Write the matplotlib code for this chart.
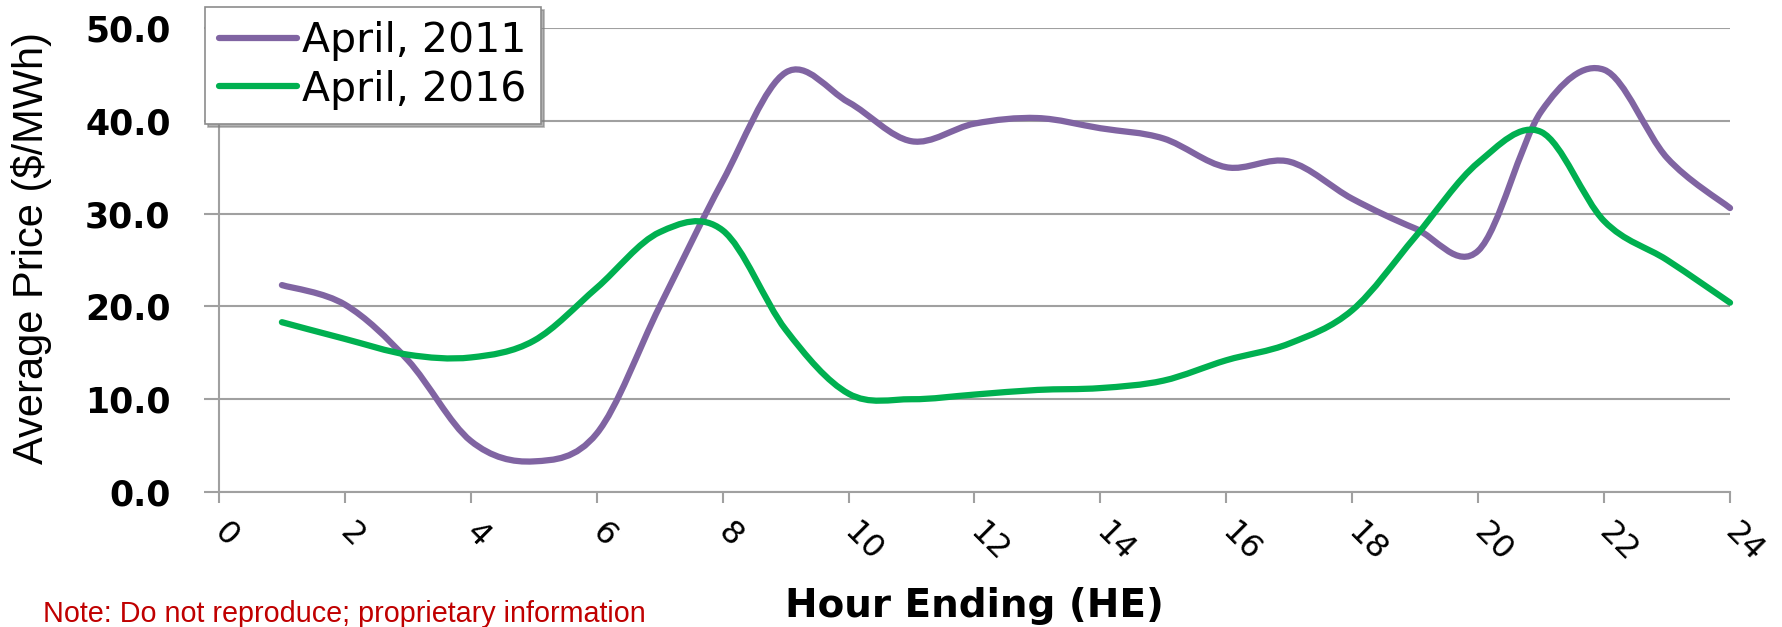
import numpy as np
import matplotlib
matplotlib.use('Agg')
import matplotlib.pyplot as plt
from matplotlib.path import Path
from matplotlib.patches import PathPatch
from matplotlib.lines import Line2D

# data (hour ending 1..24, $/MWh)
hours = list(range(1, 25))
april_2011 = [22.3, 20.2, 14.2, 5.5, 3.3, 6.3, 20.0, 33.5, 45.2, 42.0, 37.8, 39.7,
              40.3, 39.2, 38.1, 35.0, 35.6, 31.6, 28.4, 26.0, 41.0, 45.5, 36.0, 30.6]
april_2016 = [18.3, 16.5, 14.8, 14.5, 16.3, 22.0, 28.0, 28.2, 17.5, 10.6, 10.0, 10.5,
              11.0, 11.2, 12.0, 14.2, 16.0, 19.6, 27.5, 35.5, 38.8, 29.2, 25.0, 20.4]
series_labels = ['April, 2011', 'April, 2016']
series_colors = ['#8064A2', '#00B050']
x_ticks = list(range(0, 25, 2))
y_ticks = [0, 10, 20, 30, 40, 50]

GRAY = '#A0A0A0'


# excel style "smoothed line": cubic bezier pieces with catmull-rom tangents
def smooth_path(x, y):
    px = np.concatenate([[x[0]], np.asarray(x, float), [x[-1]]])
    py = np.concatenate([[y[0]], np.asarray(y, float), [y[-1]]])
    verts = [(px[1], py[1])]
    codes = [Path.MOVETO]
    for i in range(1, len(px) - 2):
        c1 = (px[i] + (px[i + 1] - px[i - 1]) / 6, py[i] + (py[i + 1] - py[i - 1]) / 6)
        c2 = (px[i + 1] - (px[i + 2] - px[i]) / 6, py[i + 1] - (py[i + 2] - py[i]) / 6)
        verts += [c1, c2, (px[i + 1], py[i + 1])]
        codes += [Path.CURVE4] * 3
    return Path(verts, codes)


fig = plt.figure(figsize=(17.83, 6.27), dpi=100)
ax = fig.add_axes([0.1228, 0.2153, 0.8475, 0.7400])

for vals, col in zip([april_2011, april_2016], series_colors):
    patch = PathPatch(smooth_path(hours, vals), facecolor='none', edgecolor=col,
                      lw=4.5, capstyle='round', joinstyle='round', clip_on=False, zorder=3)
    ax.add_patch(patch)

ax.set_xlim(0, 24)
ax.set_ylim(0, 50)
ax.set_xticks(x_ticks)
ax.set_yticks(y_ticks)
ax.set_xticklabels([str(v) for v in x_ticks], rotation=-45, ha='left', va='center',
                   rotation_mode='anchor')
ax.set_yticklabels(['%.1f' % v for v in y_ticks], fontweight='bold')

ax.tick_params(axis='y', direction='out', length=10.8, width=1.5, color=GRAY, pad=24,
               labelsize=25)
ax.tick_params(axis='x', direction='out', length=8, width=1.5, color=GRAY, pad=18,
               labelsize=23)
ax.grid(axis='y', color=GRAY, lw=1.5)
ax.set_axisbelow(True)
for s in ['top', 'right']:
    ax.spines[s].set_visible(False)
for s in ['left', 'bottom']:
    ax.spines[s].set_color(GRAY)
    ax.spines[s].set_linewidth(1.5)

ax.set_xlabel('Hour Ending (HE)', fontsize=28, fontweight='bold', va='baseline')
ax.xaxis.set_label_coords(0.5, -125 / 464)
ax.set_ylabel('Average Price ($/MWh)', fontsize=30, family='Liberation Sans',
              ha='center', va='center')
ax.yaxis.set_label_coords(-187 / 1511, 244 / 464)

handles = [Line2D([], [], color=c, lw=4.5, solid_capstyle='round') for c in series_colors]
leg = ax.legend(handles, series_labels, loc='upper left',
                bbox_to_anchor=(205 / 1783, 1 - 7 / 627), bbox_transform=fig.transFigure,
                borderaxespad=0, fontsize=29.5, fancybox=False,
                shadow={'color': '#808080', 'alpha': 0.6},
                handlelength=1.9, handletextpad=0.12, labelspacing=0.2, borderpad=0.35)
leg.get_frame().set_edgecolor('#8C8C8C')
leg.get_frame().set_linewidth(1.2)
leg.set_zorder(5)

fig.text(43 / 1783, 5 / 627, 'Note: Do not reproduce; proprietary information',
         color='#C00000', fontsize=20.7, family='Liberation Sans', va='baseline')

fig.savefig('out.png', dpi=100)
